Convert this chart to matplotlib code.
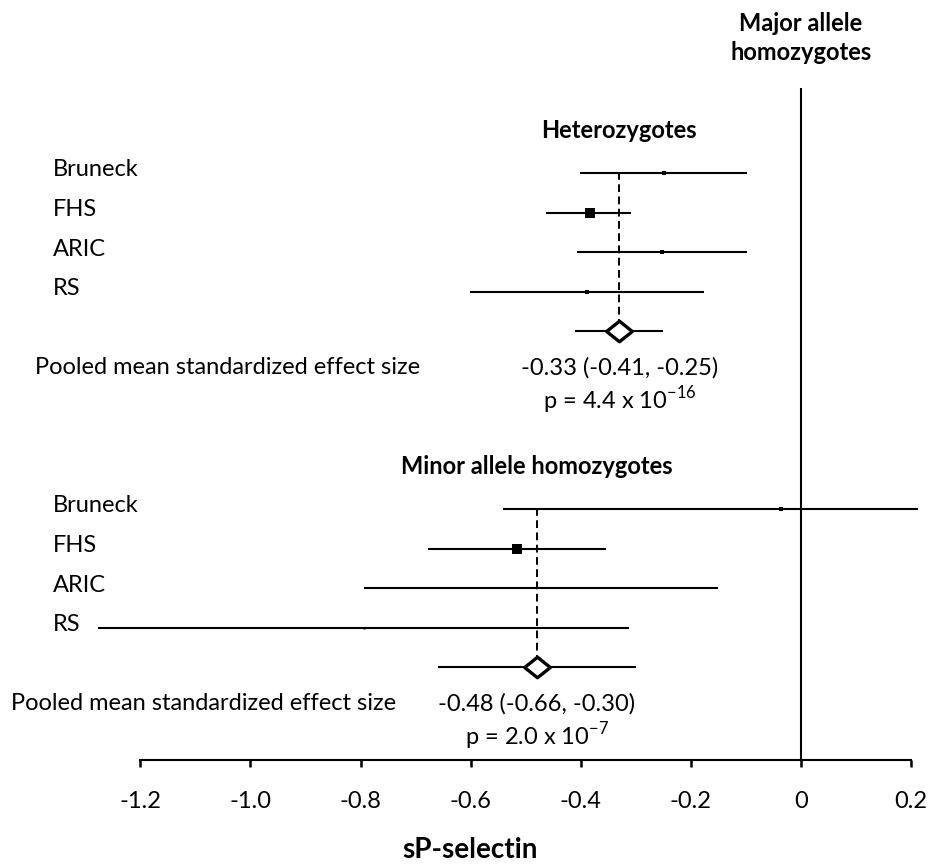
import numpy as np
import matplotlib
matplotlib.use("Agg")
import matplotlib.pyplot as plt
from matplotlib.path import Path

plt.rcParams["font.family"] = ["Lato", "DejaVu Sans"]
plt.rcParams["mathtext.fontset"] = "custom"
plt.rcParams["mathtext.rm"] = "Lato"

# ---------- data ----------
studies = ["Bruneck", "FHS", "ARIC", "RS"]

het_est = [-0.249, -0.384, -0.252, -0.389]
het_lo = [-0.401, -0.463, -0.406, -0.601]
het_hi = [-0.098, -0.309, -0.098, -0.177]
het_pooled = [-0.33, -0.41, -0.25]
het_p = "p = 4.4 x 10$^{-16}$"

min_est = [-0.036, -0.516, -0.472, -0.794]
min_lo = [-0.542, -0.677, -0.794, -1.276]
min_hi = [0.212, -0.355, -0.150, -0.312]
min_pooled = [-0.48, -0.66, -0.30]
min_p = "p = 2.0 x 10$^{-7}$"

xticks = [-1.2, -1.0, -0.8, -0.6, -0.4, -0.2, 0.0, 0.2]
xtick_labels = ["-1.2", "-1.0", "-0.8", "-0.6", "-0.4", "-0.2", "0", "0.2"]

# ---------- layout (pixels, figure is 931 x 864) ----------
W, H = 931, 864
X0_PX, UNIT_PX = 801, 550.6          # x = 0 at 801 px, 1 unit = 550.6 px
ROW = 39.5
HET_TOP, MIN_TOP = 173, 509
AXIS_Y = 760
FS = 17

het_box_px = [4, 10, 4, 4]
min_box_px = [3.5, 9.5, 2.5, 2]

fig = plt.figure(figsize=(W / 100, H / 100), dpi=100)
ax = fig.add_axes([0, 0, 1, 1])
ax.set_xlim(-X0_PX / UNIT_PX, (W - X0_PX) / UNIT_PX)
ax.set_ylim(H, 0)

def ftext(xp, yp, s, **kw):
    kw.setdefault("fontsize", FS)
    kw.setdefault("va", "center")
    fig.text(xp / W, 1 - yp / H, s, **kw)

diamond = Path([(-1, 0), (0, 0.8), (1, 0), (0, -0.8), (-1, 0)],
               [Path.MOVETO, Path.LINETO, Path.LINETO, Path.LINETO, Path.CLOSEPOLY])

def block(top, est, lo, hi, pooled, boxes, title, pooled_x, pval):
    ys = top + ROW * np.arange(len(est) + 1)
    # studies
    for i, name in enumerate(studies):
        ax.hlines(ys[i], lo[i], hi[i], color="black", lw=1.5)
        ax.plot(est[i], ys[i], marker="s", ms=boxes[i] / 1.389, color="black",
                mec="black", mew=0, zorder=4)
        ftext(53, ys[i] - 3, name, ha="left")
    # pooled
    yd = ys[-1]
    ax.vlines(pooled[0], ys[0] - 1, yd - 11, color="black", lw=1.4,
              linestyle=(0, (4, 2.3)))
    ax.hlines(yd, pooled[1], pooled[2], color="black", lw=1.5)
    ax.plot(pooled[0], yd, marker=diamond, ms=18.5, mfc="white", mec="black",
            mew=2.4, zorder=5)
    ax.text(pooled[0], top - 43, title, ha="center", va="center",
            fontsize=FS, fontweight="bold")
    ftext(pooled_x, yd + 37, "Pooled mean standardized effect size", ha="left")
    ax.text(pooled[0], yd + 37,
            f"{pooled[0]:.2f} ({pooled[1]:.2f}, {pooled[2]:.2f})",
            ha="center", va="center", fontsize=FS)
    ax.text(pooled[0], yd + 69, pval, ha="center", va="center", fontsize=FS)

block(HET_TOP, het_est, het_lo, het_hi, het_pooled, het_box_px,
      "Heterozygotes", 35, het_p)
block(MIN_TOP, min_est, min_lo, min_hi, min_pooled, min_box_px,
      "Minor allele homozygotes", 11, min_p)

# reference line and header
ax.vlines(0, 88, AXIS_Y, color="black", lw=1.5)
ax.text(0, 38, "Major allele\nhomozygotes", ha="center", va="center",
        fontsize=FS, fontweight="bold", linespacing=1.3)

# x axis
for s in ["top", "left", "right"]:
    ax.spines[s].set_visible(False)
ax.spines["bottom"].set_position(("data", AXIS_Y))
ax.spines["bottom"].set_bounds(xticks[0], xticks[-1])
ax.spines["bottom"].set_linewidth(1.5)
ax.set_xticks(xticks)
ax.set_xticklabels(xtick_labels)
ax.set_yticks([])
ax.tick_params(axis="x", direction="out", length=5, width=1.8, pad=17,
               labelsize=FS)

ftext(470, 850, "sP-selectin", ha="center", fontweight="bold", fontsize=20)

fig.savefig("out.png", dpi=100)
